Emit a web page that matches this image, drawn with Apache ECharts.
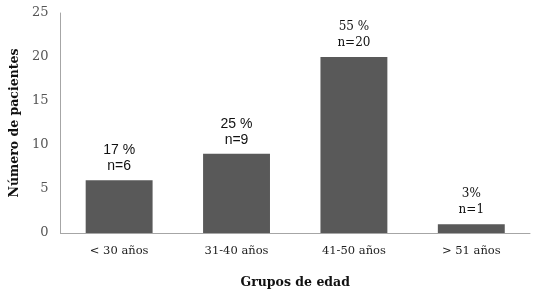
<!DOCTYPE html>
<html><head><meta charset="utf-8">
<script src="https://cdn.jsdelivr.net/npm/echarts@6/dist/echarts.min.js"></script>
<style>html,body{margin:0;padding:0;background:#fff}#c{width:533px;height:294px}</style>
</head><body><div id="c"></div>
<script>
const categories = ['< 30 años', '31-40 años', '41-50 años', '> 51 años'];
const values = [6, 9, 20, 1];
const pctLabels = ['17 %', '25 %', '55 %', '3%'];
const nLabels = ['n=6', 'n=9', 'n=20', 'n=1'];
const yTicks = [0, 5, 10, 15, 20, 25];

const sansCats = [true, true, false, false];
const chart = echarts.init(document.getElementById('c'));
chart.setOption({
  animation: false,
  grid: { left: 58, right: 3, top: 13, bottom: 59 },
  xAxis: {
    type: 'category', data: categories,
    name: 'Grupos de edad', nameLocation: 'middle', nameGap: 43,
    nameTextStyle: { fontFamily: 'DejaVu Serif', fontWeight: 'bold', fontSize: 12.5, color: '#111' },
    axisLine: { lineStyle: { color: '#a6a6a6' } },
    axisTick: { show: false },
    axisLabel: { fontFamily: 'DejaVu Serif', fontSize: 11.5, color: '#222', margin: 12 }
  },
  yAxis: {
    type: 'value', min: 0, max: 25, interval: 5,
    name: 'Número de pacientes', nameLocation: 'middle', nameGap: 36,
    nameTextStyle: { fontFamily: 'DejaVu Serif', fontWeight: 'bold', fontSize: 12.5, color: '#111' },
    axisLine: { show: true, lineStyle: { color: '#a6a6a6' } },
    axisTick: { show: false },
    splitLine: { show: false },
    axisLabel: { fontFamily: 'DejaVu Serif', fontSize: 13, color: '#555', margin: 12,
      formatter: v => yTicks.includes(v) ? String(v) : '' }
  },
  series: [{
    type: 'bar', barWidth: '57%',
    itemStyle: { color: '#595959' },
    data: values.map((v, i) => ({
      value: v,
      label: {
        show: true, position: 'top', distance: 6, lineHeight: 16,
        fontFamily: sansCats[i] ? 'Liberation Sans' : 'DejaVu Serif',
        fontSize: sansCats[i] ? 14 : 12, color: '#111',
        formatter: pctLabels[i] + '\n' + nLabels[i]
      }
    }))
  }]
});
</script></body></html>
